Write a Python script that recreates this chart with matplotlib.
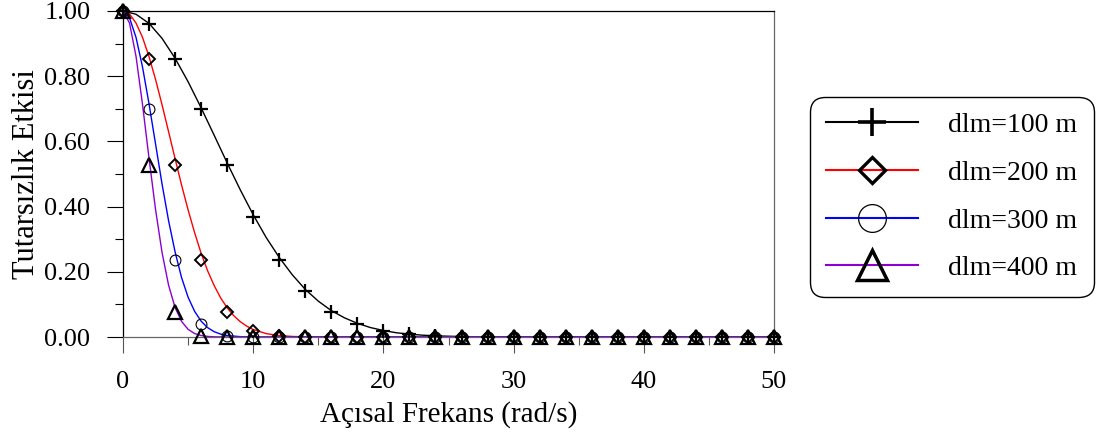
import matplotlib
matplotlib.use("Agg")
import matplotlib.pyplot as plt
from matplotlib.lines import Line2D
from matplotlib.ticker import MultipleLocator, FormatStrFormatter

plt.rcParams["font.family"] = ["Liberation Serif", "DejaVu Serif"]

# Coherency loss values at the marked frequencies (rad/s)
freq_marks = [0, 2, 4, 6, 8, 10, 12, 14, 16, 18, 20, 22, 24,
              26, 28, 30, 32, 34, 36, 38, 40, 42, 44, 46, 48, 50]
marks_100 = [1.000, 0.961, 0.852, 0.698, 0.527, 0.368, 0.237, 0.141, 0.077,
             0.039, 0.018, 0.008, 0.003, 0.001, 0.0004, 0.0, 0.0, 0.0, 0.0,
             0.0, 0.0, 0.0, 0.0, 0.0, 0.0, 0.0]
marks_200 = [1.000, 0.852, 0.527, 0.237, 0.077, 0.018, 0.003, 0.0004, 0.0,
             0.0, 0.0, 0.0, 0.0, 0.0, 0.0, 0.0, 0.0, 0.0, 0.0, 0.0, 0.0,
             0.0, 0.0, 0.0, 0.0, 0.0]
marks_300 = [1.000, 0.698, 0.237, 0.039, 0.003, 0.0001, 0.0, 0.0, 0.0, 0.0,
             0.0, 0.0, 0.0, 0.0, 0.0, 0.0, 0.0, 0.0, 0.0, 0.0, 0.0, 0.0,
             0.0, 0.0, 0.0, 0.0]
marks_400 = [1.000, 0.527, 0.077, 0.003, 0.0, 0.0, 0.0, 0.0, 0.0, 0.0, 0.0,
             0.0, 0.0, 0.0, 0.0, 0.0, 0.0, 0.0, 0.0, 0.0, 0.0, 0.0, 0.0,
             0.0, 0.0, 0.0]

# Continuous curves
freq_line_100 = [0, 1, 2, 3, 4, 5, 6, 7, 8, 9, 10, 11, 12, 13, 14, 15, 16,
                 17, 18, 19, 20, 21, 22, 23, 24, 26, 28, 30, 50]
line_100 = [1.000, 0.990, 0.962, 0.916, 0.855, 0.783, 0.703, 0.619, 0.534,
            0.452, 0.375, 0.305, 0.244, 0.191, 0.146, 0.110, 0.081, 0.059,
            0.042, 0.029, 0.020, 0.013, 0.0087, 0.0056, 0.0035, 0.0013,
            0.0005, 0.0001, 0.0]

freq_line_200 = [0, 0.5, 1, 1.5, 2, 2.5, 3, 3.5, 4, 4.5, 5, 5.5, 6, 6.5, 7,
                 7.5, 8, 8.5, 9, 9.5, 10, 11, 12, 13, 14, 16, 50]
line_200 = [1.000, 0.991, 0.963, 0.919, 0.860, 0.790, 0.712, 0.630, 0.547,
            0.466, 0.390, 0.320, 0.257, 0.203, 0.158, 0.120, 0.0896, 0.0656,
            0.0472, 0.0333, 0.0230, 0.0104, 0.0044, 0.0017, 0.0006, 0.0001,
            0.0]

freq_line_300 = [0, 0.5, 1, 1.5, 2, 2.5, 3, 3.5, 4, 4.5, 5, 5.5, 6, 6.5, 7,
                 7.5, 8, 9, 10, 11, 50]
line_300 = [1.000, 0.979, 0.919, 0.828, 0.715, 0.592, 0.469, 0.357, 0.261,
            0.182, 0.122, 0.0787, 0.0486, 0.0287, 0.0163, 0.0089, 0.0046,
            0.0011, 0.0002, 0.0, 0.0]

freq_line_400 = [0, 0.5, 1, 1.5, 2, 2.5, 3, 3.5, 4, 4.5, 5, 5.5, 6, 6.5, 7,
                 8, 9, 50]
line_400 = [1.000, 0.963, 0.861, 0.713, 0.548, 0.391, 0.259, 0.159, 0.0904,
            0.0477, 0.0234, 0.0106, 0.0045, 0.0018, 0.0006, 0.0001, 0.0, 0.0]

labels = ["dlm=100 m", "dlm=200 m", "dlm=300 m", "dlm=400 m"]

series = [
    (freq_line_100, line_100, marks_100, "black", "+",
     dict(ms=10, mew=1.6), dict(ms=20, mew=2.6)),
    (freq_line_200, line_200, marks_200, "#ff0000", "D",
     dict(ms=6.5, mew=1.4), dict(ms=13.5, mew=2.4)),
    (freq_line_300, line_300, marks_300, "#0000ff", "o",
     dict(ms=7.8, mew=0.8), dict(ms=20, mew=0.9)),
    (freq_line_400, line_400, marks_400, "#8c00d4", "^",
     dict(ms=9.5, mew=1.6), dict(ms=21, mew=2.5)),
]

fig = plt.figure(figsize=(11.03, 4.37), dpi=100)
ax = fig.add_axes([123 / 1103, 100 / 437, 651 / 1103, 326 / 437])

handles = []
for fx, fy, my, color, marker, mstyle, lstyle in series:
    ax.plot(fx, fy, color=color, lw=1.0, clip_on=False, zorder=2)
    ax.plot(freq_marks, my, linestyle="none", marker=marker,
            markerfacecolor="none", markeredgecolor="black",
            clip_on=False, zorder=3, **mstyle)
    handles.append(Line2D([], [], color=color, lw=1.5, marker=marker,
                          markerfacecolor="none", markeredgecolor="black",
                          **lstyle))

ax.set_xlim(0, 50)
ax.set_ylim(0, 1.0)
ax.xaxis.set_major_locator(MultipleLocator(10))
ax.xaxis.set_minor_locator(MultipleLocator(5))
ax.yaxis.set_major_locator(MultipleLocator(0.2))
ax.yaxis.set_minor_locator(MultipleLocator(0.1))
ax.yaxis.set_major_formatter(FormatStrFormatter("%.2f"))

ax.tick_params(axis="y", which="major", length=11.5, width=0.8, pad=12,
               labelsize=19, color="black")
ax.tick_params(axis="y", which="minor", length=5.8, width=0.8, color="black")
ax.tick_params(axis="x", which="major", length=11.5, width=0.8, pad=13,
               labelsize=19, color="#555555", labelcolor="black")
ax.tick_params(axis="x", which="minor", length=5.8, width=0.8,
               color="#555555")

for side in ("left", "top"):
    ax.spines[side].set_color("black")
    ax.spines[side].set_linewidth(0.9)
for side in ("right", "bottom"):
    ax.spines[side].set_color("#666666")
    ax.spines[side].set_linewidth(0.9)

ax.set_xlabel("Açısal Frekans (rad/s)", fontsize=21, labelpad=6)
ax.set_ylabel("Tutarsızlık Etkisi", fontsize=22, labelpad=2)

leg = fig.legend(handles, labels, loc="center left",
                 bbox_to_anchor=(810 / 1103, 240 / 437),
                 bbox_transform=fig.transFigure, borderaxespad=0,
                 fontsize=20, frameon=True, fancybox=True,
                 handlelength=3.3, handletextpad=1.1, borderpad=0.58,
                 labelspacing=0.8, edgecolor="black", framealpha=1)
leg.get_frame().set_linewidth(1.0)
leg.get_frame().set_boxstyle("round,pad=0,rounding_size=0.55")

fig.savefig("out.png", dpi=100)
